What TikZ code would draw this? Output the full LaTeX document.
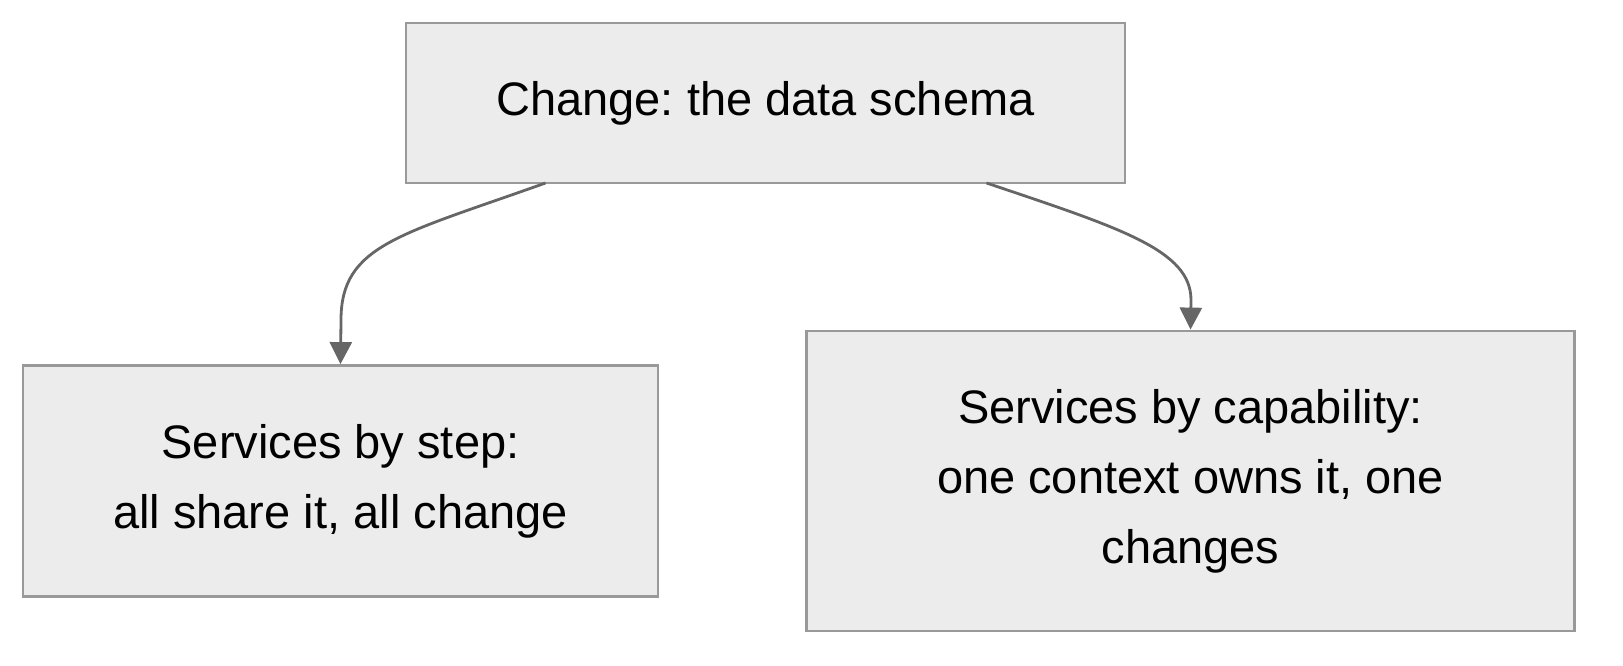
\documentclass[tikz,border=0pt]{standalone}
\usepackage{fontspec}
\setmainfont{Liberation Sans}
\usetikzlibrary{arrows.meta}
\definecolor{boxfill}{HTML}{ECECEC}
\definecolor{boxline}{HTML}{999999}
\definecolor{edgeline}{HTML}{666666}
\frenchspacing
\begin{document}
\begin{tikzpicture}[x=1pt,y=-1pt,
  boxnode/.style={draw=boxline,fill=boxfill,line width=2.8pt,inner sep=0pt,align=center,
    font=\fontsize{47}{70}\selectfont\frenchspacing},
  edge/.style={draw=edgeline,line width=2.8pt,-{Triangle[length=22pt,width=22pt]}}]
\useasboundingbox (0,0) rectangle (1623,666);
\node[boxnode,minimum width=719pt,minimum height=160pt] (top) at (765.5,103) {Change: the data schema};
\node[boxnode,minimum width=635pt,minimum height=231pt] (lbox) at (340.5,481) {Services by step:\\all share it, all change};
\node[boxnode,minimum width=768pt,minimum height=300pt] (rbox) at (1190.5,481) {Services by capability:\\one context owns it, one\\changes};
\coordinate (ls) at (545.5,183);
\coordinate (rs) at (986.5,183);
\draw[edge] (ls) .. controls (400,235) and (341,245) .. (341,320) -- (lbox.north);
\draw[edge] (rs) .. controls (1120,228) and (1191,250) .. (1191,300) -- (rbox.north);
\end{tikzpicture}
\end{document}
